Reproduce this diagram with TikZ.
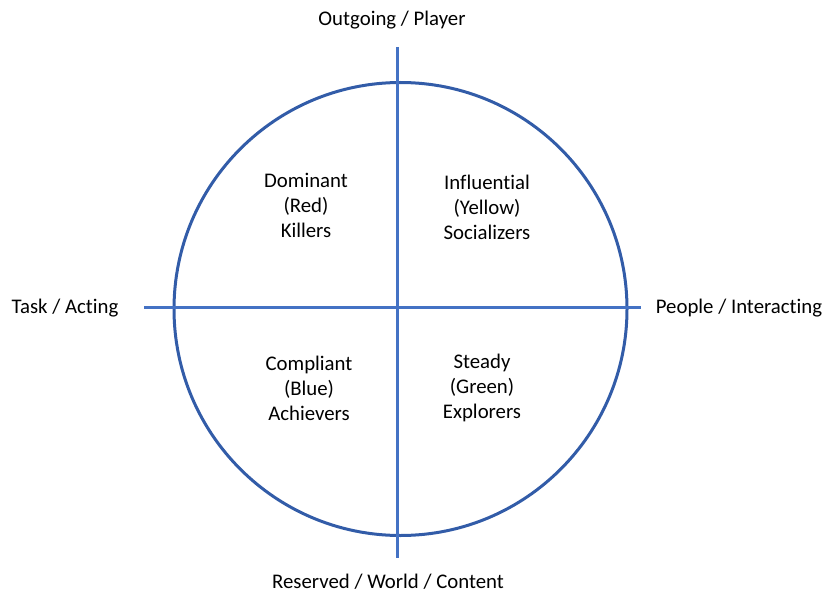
\documentclass[tikz,border=0pt]{standalone}
\usepackage{fontspec}
\setmainfont[Ligatures={NoCommon}]{Carlito}
\usepackage{tikz}
\usetikzlibrary{positioning,calc}
\definecolor{axisblue}{RGB}{68,114,196}
\definecolor{ringblue}{RGB}{50,92,168}

\begin{document}
\begin{tikzpicture}[x=1pt, y=-1pt,
    lbl/.style={font=\fontsize{20.8}{25}\selectfont, align=center, inner sep=0pt},
    axisline/.style={axisblue, line width=3pt}]
  \useasboundingbox (0,0) rectangle (826,596);
  % Circle and axes
  \draw[ringblue, line width=3pt] (400.5,309) circle (226.5);
  \coordinate (top) at (397,47);
  \coordinate (bot) at (397,558);
  \coordinate (lft) at (144,307);
  \coordinate (rgt) at (641,307);
  \draw[axisline] (top) -- (bot);
  \draw[axisline] (lft) -- (rgt);
  % Axis labels
  \node[lbl] (outgoing) at (392,20) {Outgoing / Player};
  \node[lbl] (reserved) at (388,582) {Reserved / World / Content};
  \node[lbl] (task) at (65,308) {Task / Acting};
  \node[lbl] (people) at (739,308) {People / Interacting};
  % Quadrants
  \node[lbl] (dominant) at (306,205) {Dominant\\(Red)\\Killers};
  \node[lbl] (influential) at (487,207) {Influential\\(Yellow)\\Socializers};
  \node[lbl] (compliant) at (309,388) {Compliant\\(Blue)\\Achievers};
  \node[lbl] (steady) at (482,388) {Steady\\(Green)\\Explorers};
\end{tikzpicture}
\end{document}
